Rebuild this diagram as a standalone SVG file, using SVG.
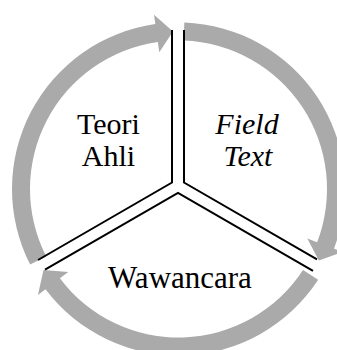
<svg xmlns="http://www.w3.org/2000/svg" width="337" height="350" viewBox="0 0 337 350">
  <style>
    .arrow { fill: #aaaaaa; stroke: none; }
    .divider { fill: none; stroke: #000; stroke-width: 2; stroke-linecap: butt; stroke-linejoin: miter; }
    .label { font-family: "Liberation Serif", "Times New Roman", serif; font-size: 30px; fill: #000; text-anchor: middle; }
    .italic { font-style: italic; }
  </style>
  <rect width="337" height="350" fill="#fff"/>

  <!-- cycle arrows: thick grey arcs around centre (178.5,189) -->
  <g id="connectors">
    <path class="arrow" d="M30.15,264.59 A166.5,166.5 0 0 1 155.33,24.12 L154.0,14.71 L173.0,31.6 L159.29,52.34 L157.83,41.94 A148.5,148.5 0 0 0 46.19,256.42 Z"/>
    <path class="arrow" d="M184.31,22.60 A166.5,166.5 0 0 1 333.94,248.67 L342.81,252.07 L318.83,260.50 L307.33,238.46 L317.14,242.22 A148.5,148.5 0 0 0 183.68,40.59 Z"/>
    <path class="arrow" d="M318.14,279.68 A166.5,166.5 0 0 1 45.53,289.20 L37.94,294.92 L43.50,270.12 L68.29,272.05 L59.90,278.37 A148.5,148.5 0 0 0 303.04,269.88 Z"/>
  </g>

  <!-- double-line Y dividing the three sectors -->
  <g id="dividers">
    <polyline class="divider" points="172,30 172,182.5 38,260"/>
    <polyline class="divider" points="184,30 184,182.5 317,259.3"/>
    <polyline class="divider" points="45,269.7 178,192.9 313,270.9"/>
  </g>

  <g id="teori-ahli">
    <text class="label" x="108.5" y="134">Teori</text>
    <text class="label" x="108.5" y="166">Ahli</text>
  </g>
  <g id="field-text">
    <text class="label italic" x="247" y="134">Field</text>
    <text class="label italic" x="248" y="166">Text</text>
  </g>
  <g id="wawancara">
    <text class="label" x="180" y="288" style="font-size:31px">Wawancara</text>
  </g>
</svg>
